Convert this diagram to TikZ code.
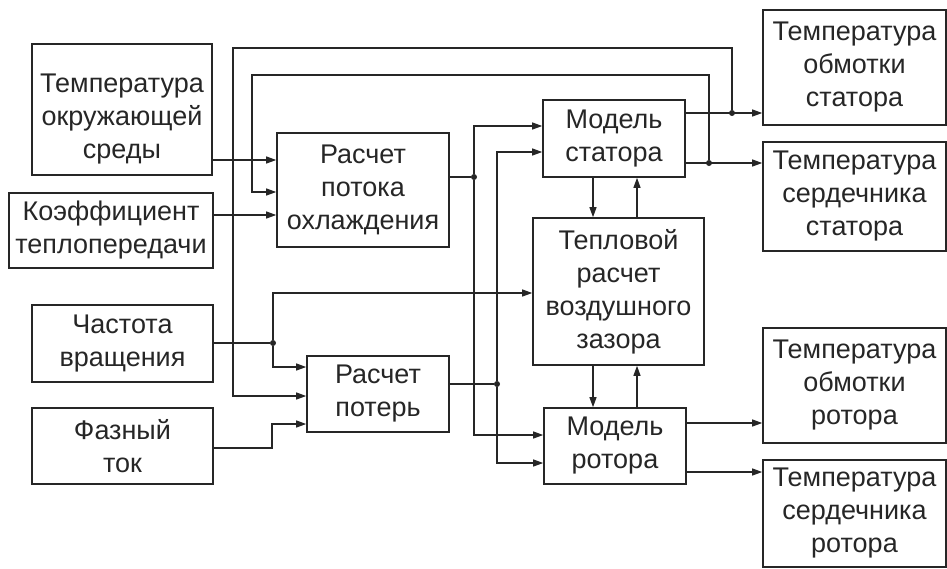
\documentclass[tikz,border=0pt]{standalone}
\usepackage{fontspec}
\setmainfont{Liberation Sans}
\usetikzlibrary{arrows.meta}

\begin{document}
\begin{tikzpicture}[x=1pt,y=-1pt,color=black!85]
  \tikzset{blok/.style={draw, line width=1.6pt, inner sep=0pt, align=center, font=\fontsize{27}{33}\selectfont},
    strelka/.style={line width=1.2pt, -{Triangle[length=10pt,width=7pt]}},
    provod/.style={line width=1.2pt},
    tochka/.style={circle, fill, inner sep=0pt, minimum size=6pt}}
  \useasboundingbox (0,0) rectangle (947,568);

  \node[blok, minimum width=180pt, minimum height=131pt, text height=104pt] (tokr) at (122,109.5) {Температура\\окружающей\\среды};
  \node[blok, minimum width=204pt, minimum height=75pt] (koef) at (111,230.5) {Коэффициент\\теплопередачи};
  \node[blok, minimum width=181pt, minimum height=77pt] (chast) at (122.5,343.5) {Частота\\вращения};
  \node[blok, minimum width=181pt, minimum height=76pt] (tok) at (122.5,446) {Фазный\\ток};
  \node[blok, minimum width=172pt, minimum height=114pt] (potok) at (363,190) {Расчет\\потока\\охлаждения};
  \node[blok, minimum width=142pt, minimum height=76pt] (poteri) at (378,394) {Расчет\\потерь};
  \node[blok, minimum width=142pt, minimum height=77pt] (stator) at (614,138.5) {Модель\\статора};
  \node[blok, minimum width=171pt, minimum height=147pt] (zazor) at (618.5,291.5) {Тепловой\\расчет\\воздушного\\зазора};
  \node[blok, minimum width=142pt, minimum height=76pt] (rotor) at (615,446) {Модель\\ротора};
  \node[blok, minimum width=183pt, minimum height=115pt] (tobs) at (854.5,67.5) {Температура\\обмотки\\статора};
  \node[blok, minimum width=183pt, minimum height=109pt] (tsers) at (854.5,196.5) {Температура\\сердечника\\статора};
  \node[blok, minimum width=183pt, minimum height=115pt] (tobr) at (854.5,385.5) {Температура\\обмотки\\ротора};
  \node[blok, minimum width=183pt, minimum height=107pt] (tserr) at (854.5,513.5) {Температура\\сердечника\\ротора};

  \node[tochka] (j1) at (709,163) {};
  \node[tochka] (j2) at (732,113) {};
  \node[tochka] (j3) at (474,177) {};
  \node[tochka] (j4) at (497,384) {};
  \node[tochka] (j5) at (273,343) {};

  \draw[strelka] (tokr.east |- 0,160) -- (potok.west |- 0,160);
  \draw[strelka] (koef.east |- 0,215) -- (potok.west |- 0,215);
  \draw[strelka] (j1) |- (252,75) |- (potok.west |- 0,192);
  \draw[strelka] (j2) |- (233,48) |- (poteri.west |- 0,396);

  \draw[provod] (potok.east |- 0,177) -- (j3);
  \draw[strelka] (j3) |- (stator.west |- 0,126);
  \draw[strelka] (j3) |- (rotor.west |- 0,435);

  \draw[provod] (poteri.east |- 0,384) -- (j4);
  \draw[strelka] (j4) |- (stator.west |- 0,152);
  \draw[strelka] (j4) |- (rotor.west |- 0,463);

  \draw[provod] (chast.east |- 0,343) -- (j5);
  \draw[strelka] (j5) |- (zazor.west |- 0,293);
  \draw[strelka] (j5) |- (poteri.west |- 0,367);
  \draw[strelka] (tok.east |- 0,448) -| (272,424) -- (poteri.west |- 0,424);

  \draw[strelka] (stator.south -| 593,0) -- (zazor.north -| 593,0);
  \draw[strelka] (zazor.north -| 637,0) -- (stator.south -| 637,0);
  \draw[strelka] (zazor.south -| 593,0) -- (rotor.north -| 593,0);
  \draw[strelka] (rotor.north -| 637,0) -- (zazor.south -| 637,0);

  \draw[strelka] (stator.east |- 0,113) -- (tobs.west |- 0,113);
  \draw[strelka] (stator.east |- 0,163) -- (tsers.west |- 0,163);
  \draw[strelka] (rotor.east |- 0,423) -- (tobr.west |- 0,423);
  \draw[strelka] (rotor.east |- 0,472) -- (tserr.west |- 0,472);
\end{tikzpicture}
\end{document}
